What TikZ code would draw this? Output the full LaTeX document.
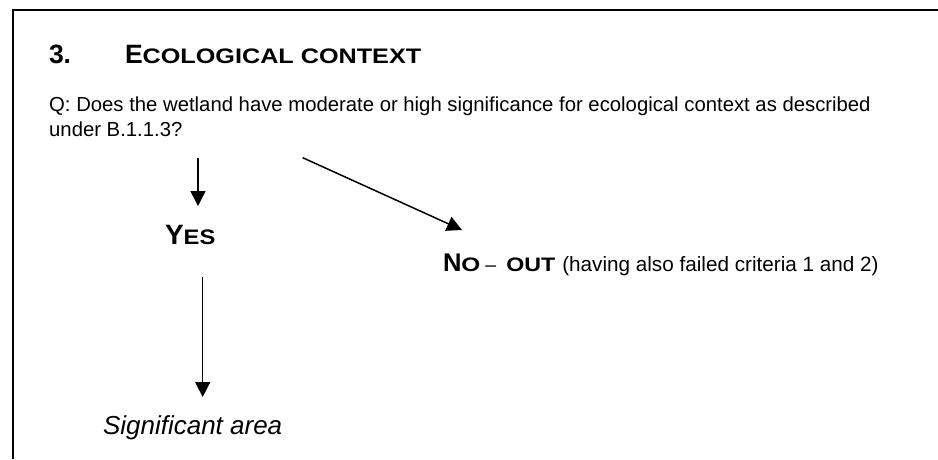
\documentclass[tikz,border=0pt]{standalone}
\usepackage{fontspec}
\setmainfont{Liberation Sans}
\usepackage{graphicx}
\usetikzlibrary{arrows.meta}
% widened small capitals, as produced by the word processor
\newcommand{\widecaps}[2]{\scalebox{#1}[1]{#2}}

\begin{document}
\begin{tikzpicture}[x=1pt,y=-1pt,
  txt/.style={anchor=base west, inner sep=0pt, outer sep=0pt},
  flow/.style={line width=1.5pt, -{Triangle[width=15pt,length=15pt]}},
  frame/.style={line width=2pt}]
\useasboundingbox (0,0) rectangle (938,459);

% open frame: left and top rules
\draw[frame] (12.7,459) -- (12.7,10) -- (938,10);

% heading
\node[txt] (num) at (49,63.3) {\fontsize{26.5}{30}\selectfont\bfseries 3.};
\node[txt] (title) at (125,63.3) {\fontsize{26.5}{30}\selectfont\bfseries E\fontsize{21}{24}\selectfont\widecaps{1.2}{COLOGICAL CONTEXT}};

% question
\node[anchor=north west, inner sep=0pt, align=left,
      font=\fontsize{20.3}{24.8}\selectfont] (q) at (49,96.3)
  {Q: Does the wetland have moderate or high significance for ecological context as described\\under B.1.1.3?};

% answers
\node[txt] (yes) at (165,244.5) {\fontsize{28}{30}\selectfont\bfseries Y\fontsize{21}{22}\selectfont\widecaps{1.13}{ES}};
\node[txt] (no) at (443,271.5) {\fontsize{25.6}{28}\selectfont\bfseries N\fontsize{19.5}{22}\selectfont\widecaps{1.25}{O}\hspace{5pt}\mdseries\textendash\hspace{10pt}\bfseries\widecaps{1.19}{OUT}\hspace{7pt}\mdseries\fontsize{20.7}{24}\selectfont(having also failed criteria 1 and 2)};
\node[txt] (sig) at (103,434) {\fontsize{26}{28}\selectfont\itshape Significant area};

% connector end points
\coordinate (yesTail) at (198,158);
\coordinate (yesTip) at (198,206);
\coordinate (noTail) at (302.7,157.7);
\coordinate (noTip) at (462,230);
\coordinate (sigTail) at (202.7,277);
\coordinate (sigTip) at (202.7,397);

\draw[flow] (yesTail) -- (yesTip);
\draw[flow] (noTail) -- (noTip);
\draw[flow] (sigTail) -- (sigTip);
\end{tikzpicture}
\end{document}
